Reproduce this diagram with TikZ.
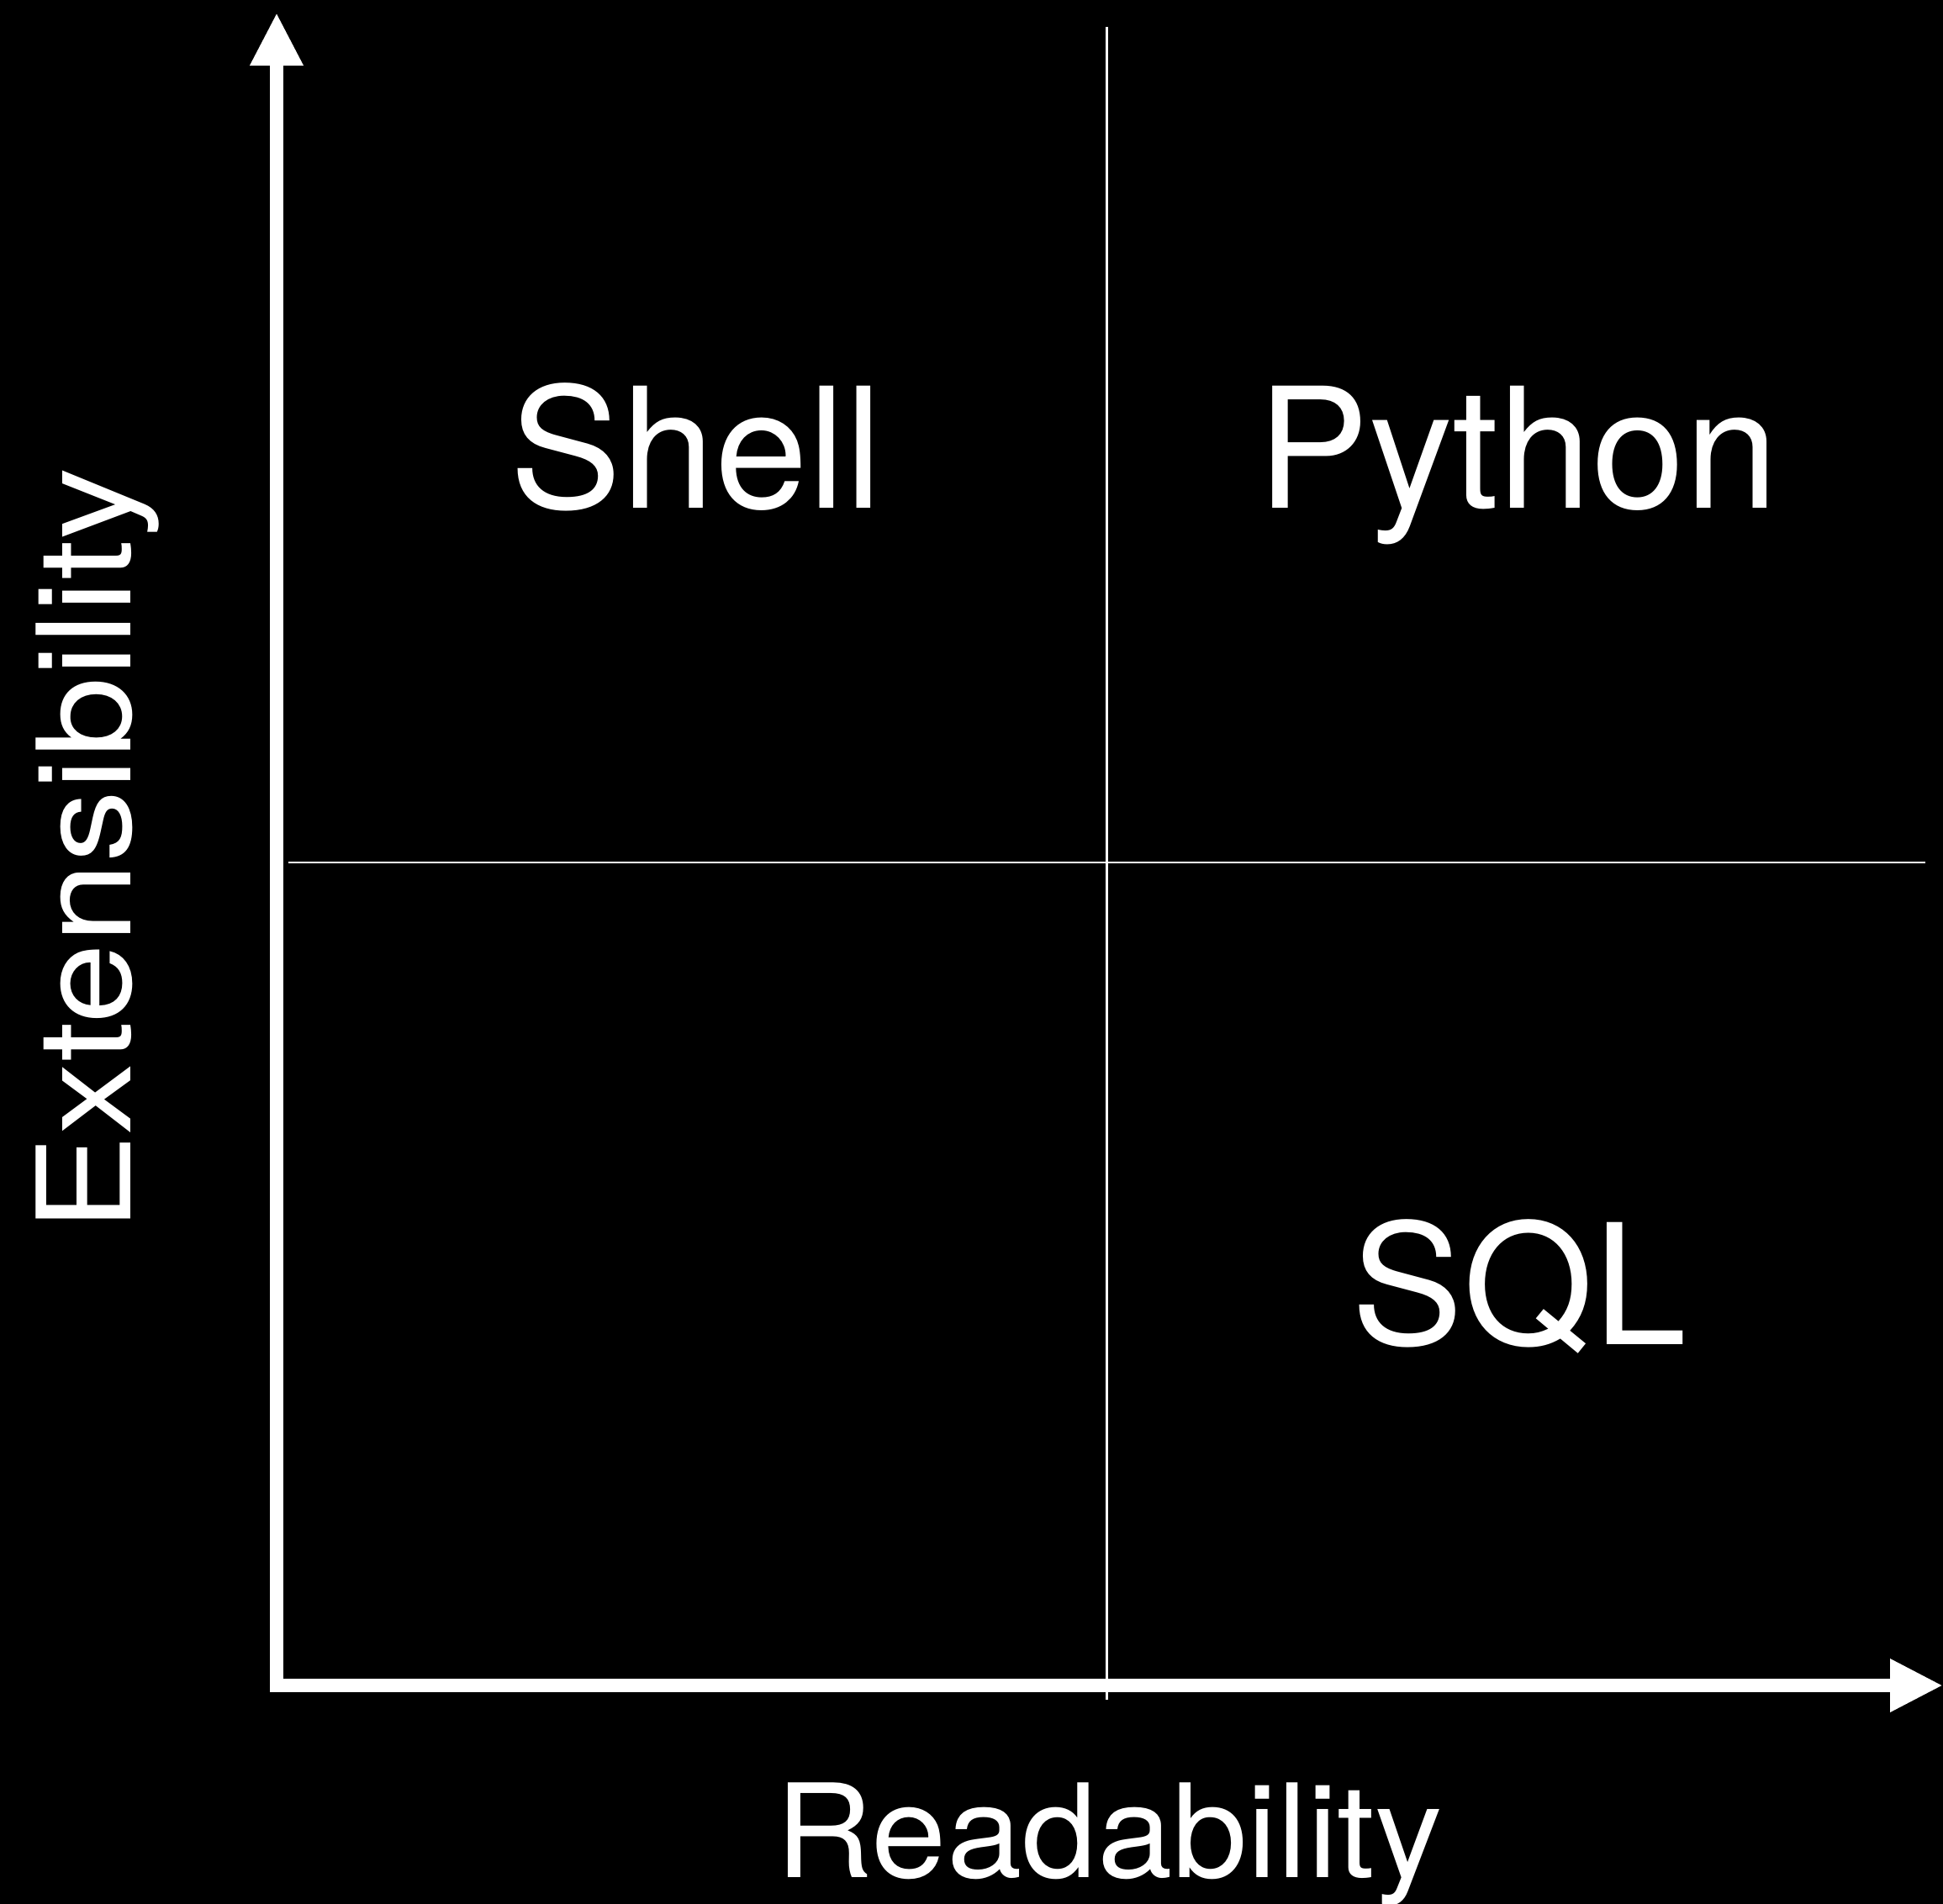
\documentclass[tikz,border=0pt]{standalone}
\usepackage{fontspec}
\setmainfont{TeX Gyre Heros}
\usetikzlibrary{arrows.meta}

\begin{document}
\begin{tikzpicture}[
    axe/.style={white, line width=0.16cm, line join=miter,
        {Triangle[length=0.63cm,width=0.59cm]}-{Triangle[length=0.63cm,width=0.59cm]}},
    quadrillage/.style={white, line width=0.027cm},
    langage/.style={text=white, font=\fontsize{56.7}{60}\selectfont, anchor=base, inner sep=0pt},
    titre/.style={text=white, font=\fontsize{44}{48}\selectfont, anchor=base, inner sep=0pt}
]
% fond noir, taille de l'image
\fill[black] (0,0) rectangle (23.11,-22.65);
\useasboundingbox (0,0) rectangle (23.11,-22.65);

% les deux axes
\coordinate (origine) at (3.29,-20.05);
\coordinate (hautY) at (3.29,-0.15);
\coordinate (finX) at (23.11,-20.05);
\draw[axe] (hautY) -- (origine) -- (finX);

% separation en quatre cases
\coordinate (milieuHaut) at (13.165,-0.32);
\coordinate (milieuBas) at (13.165,-20.22);
\coordinate (milieuGauche) at (3.43,-10.26);
\coordinate (milieuDroite) at (22.90,-10.26);
\draw[quadrillage] (milieuHaut) -- (milieuBas);
\draw[quadrillage] (milieuGauche) -- (milieuDroite);

% les langages
\node[langage] (shell) at (8.28,-6.04) {Shell};
\node[langage] (python) at (18.05,-6.04) {Python};
\node[langage] (sql) at (18.07,-15.99) {SQL};

% noms des axes
\node[titre, xscale=1.04] (lisibilite) at (13.19,-22.33) {Readability};
\node[titre, rotate=90, xscale=1.116] (extensibilite) at (1.55,-10.11) {Extensibility};

\end{tikzpicture}
\end{document}
